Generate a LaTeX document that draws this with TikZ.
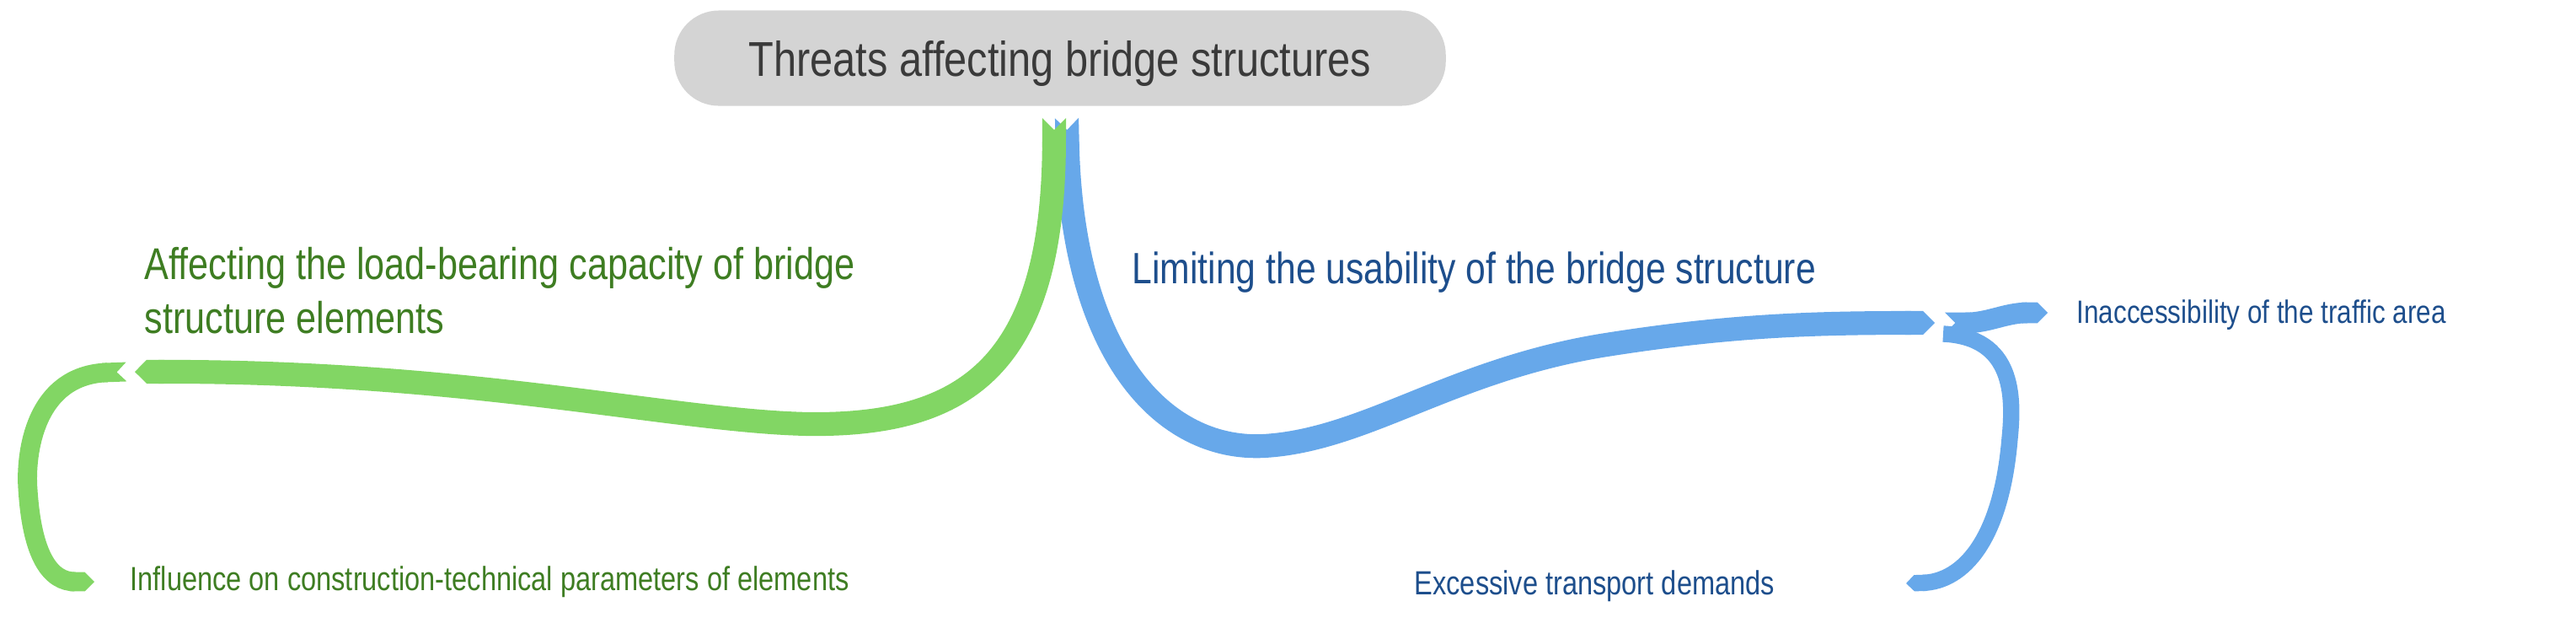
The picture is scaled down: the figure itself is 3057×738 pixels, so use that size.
\documentclass[tikz,border=0pt]{standalone}
\usepackage{fontspec}
\setmainfont{Liberation Sans}
\usetikzlibrary{arrows.meta}
\definecolor{gfill}{HTML}{82D664}
\definecolor{gtext}{HTML}{3E7D22}
\definecolor{bfill}{HTML}{67A8EA}
\definecolor{btext}{HTML}{1D4E8C}
\definecolor{rfill}{HTML}{D4D4D4}
\definecolor{rtext}{HTML}{3A3A3A}
\begin{document}
\begin{tikzpicture}[x=0.01cm,y=-0.01cm,
  lbl/.style={inner sep=0pt,anchor=base west,xscale=0.82,transform shape},
  rib/.style={line cap=butt,{Triangle Cap[reversed]}-{Triangle Cap}},
  grib/.style={rib,draw=gfill},
  brib/.style={rib,draw=bfill}]
\useasboundingbox (0,0) rectangle (3057,738);
% root
\node[fill=rfill,minimum width=9.15cm,minimum height=1.13cm,inner sep=0pt,rounded corners=15pt] (root) at (1258,69) {};
\node[inner sep=0pt,anchor=base,xscale=0.84,transform shape,text=rtext,font=\fontsize{16.5}{19}\selectfont] (roottxt) at (1258,90) {Threats affecting bridge structures};
% labels
\node[lbl,text=gtext,font=\fontsize{15}{18}\selectfont] (a) at (171,331) {Affecting the load-bearing capacity of bridge};
\node[lbl,text=gtext,font=\fontsize{15}{18}\selectfont] (a2) at (171,395) {structure elements};
\node[lbl,text=btext,font=\fontsize{14.8}{18}\selectfont] (b) at (1343,336) {Limiting the usability of the bridge structure};
\node[lbl,text=gtext,font=\fontsize{11.3}{14}\selectfont] (c) at (154,700) {Influence on construction-technical parameters of elements};
\node[lbl,text=btext,font=\fontsize{10.9}{14}\selectfont] (d) at (2464,383) {Inaccessibility of the traffic area};
\node[lbl,text=btext,font=\fontsize{11.3}{14}\selectfont] (e) at (1678,705) {Excessive transport demands};
% junction coordinates
\coordinate (gs) at (1251,140);
\coordinate (bs) at (1266,140);
\coordinate (gj) at (160,441);
\coordinate (gj2) at (150,441);
\coordinate (bj) at (2296,383);
\coordinate (bj2) at (2308,383);
\coordinate (bj3) at (2306,396);
\coordinate (ct) at (112,690);
\coordinate (dt) at (2430,371);
\coordinate (et) at (2262,692);
% ribbons
\draw[brib,line width=8pt] (bs) .. controls (1272,420) and (1380,535) .. (1500,529)
   .. controls (1620,522) and (1720,440) .. (1900,410)
   .. controls (2050,386) and (2150,383) .. (bj);
\draw[grib,line width=8pt] (gs) .. controls (1250,430) and (1150,505) .. (960,503)
   .. controls (800,500) and (560,440) .. (gj);
\draw[grib,line width=6.5pt] (gj2) .. controls (40,445) and (30,540) .. (33,580)
   .. controls (38,660) and (60,690) .. (ct);
\draw[brib,line width=7pt] (bj2) .. controls (2360,383) and (2380,371) .. (dt);
\draw[bfill,line width=5.5pt,-{Triangle Cap}] (bj3) .. controls (2390,400) and (2390,470) .. (2385,520)
   .. controls (2375,640) and (2330,690) .. (et);
\end{tikzpicture}
\end{document}
